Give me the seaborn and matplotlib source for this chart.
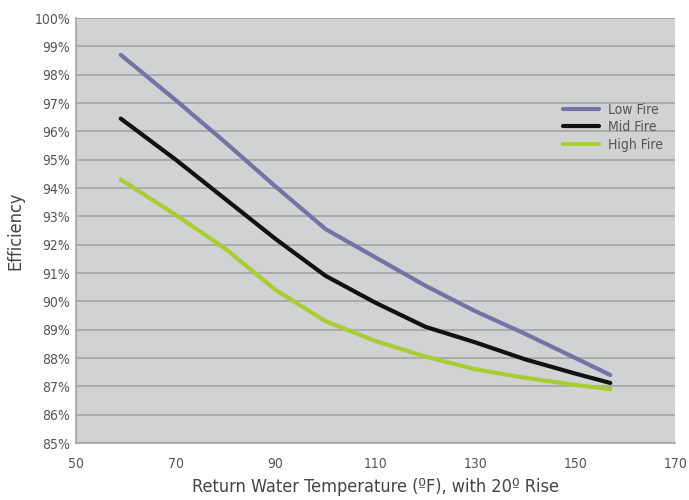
import numpy as np
import pandas as pd
import matplotlib
matplotlib.use('Agg')
import matplotlib.pyplot as plt
import seaborn as sns

# Datos
temperatura = [59, 70, 80, 90, 100, 110, 120, 130, 140, 150, 157]
low_fire = [98.7, 97.1, 95.6, 94.05, 92.55, 91.55, 90.55, 89.65, 88.85, 88.0, 87.4]
mid_fire = [96.45, 95.0, 93.6, 92.2, 90.9, 89.95, 89.1, 88.55, 87.95, 87.45, 87.12]
high_fire = [94.3, 93.05, 91.85, 90.4, 89.3, 88.6, 88.05, 87.6, 87.3, 87.05, 86.9]

series = ['Low Fire', 'Mid Fire', 'High Fire']
colores = ['#7373a6', '#111111', '#a8cd32']

df = pd.DataFrame({
    'Temperatura': temperatura * 3,
    'Eficiencia': low_fire + mid_fire + high_fire,
    'Serie': [s for s in series for _ in temperatura],
})

sns.set_style('white')
plt.rcParams['font.family'] = ['DejaVu Sans']
plt.rcParams['font.stretch'] = 'condensed'

fig = plt.figure(figsize=(6.89, 5), dpi=100)
ax = fig.add_axes([0.110, 0.114, 0.870, 0.850])
ax.set_facecolor('#d1d2d4')

sns.lineplot(data=df, x='Temperatura', y='Eficiencia', hue='Serie',
             palette=dict(zip(series, colores)), linewidth=3.0, ax=ax,
             solid_capstyle='round')

ax.set_xlim(50, 170)
ax.set_ylim(85, 100)
ax.set_xticks(range(50, 171, 20))
ax.set_yticks(range(85, 101))
ax.set_yticklabels([f'{v}%' for v in range(85, 101)])
ax.yaxis.grid(True, color='#a3a4a6', linewidth=1.2)
ax.set_axisbelow(True)

for s in ['top', 'right']:
    ax.spines[s].set_visible(False)
for s in ['left', 'bottom']:
    ax.spines[s].set_color('#a3a4a6')
    ax.spines[s].set_linewidth(1.2)

ax.tick_params(axis='x', length=4, color='#a3a4a6', labelsize=10, labelcolor='#555555', pad=6)
ax.tick_params(axis='y', length=0, labelsize=10, labelcolor='#555555', pad=4)

ax.set_xlabel('Return Water Temperature (ºF), with 20º Rise', fontsize=13, color='#444444', labelpad=5)
ax.set_ylabel('Efficiency', fontsize=13, color='#444444', labelpad=7)

ax.legend(loc='upper right', bbox_to_anchor=(1.0, 0.83), frameon=False,
          fontsize=10, labelcolor='#555555', handlelength=2.6, handletextpad=0.6,
          labelspacing=0.25)

plt.savefig('out.png', dpi=100)
